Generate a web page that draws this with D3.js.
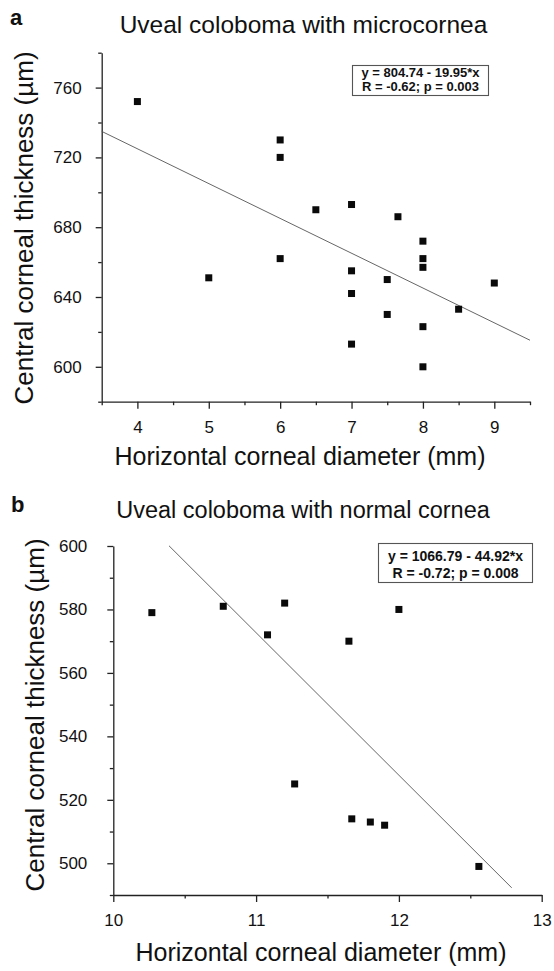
<!DOCTYPE html>
<html>
<head>
<meta charset="utf-8">
<script src="https://cdn.jsdelivr.net/npm/d3@7"></script>
<style>
  body { margin: 0; background: #fff; }
  svg { display: block; font-family: "Liberation Sans", Arial, sans-serif; }
</style>
</head>
<body>
<svg id="chart" width="554" height="971"></svg>
<script>
// Panel a: uveal coloboma with microcornea
const diamA = [4, 5, 6, 6, 6, 6.5, 7, 7, 7, 7, 7.5, 7.5, 7.65, 8, 8, 8, 8, 8, 8.5, 9];
const cctA  = [752, 651, 730, 720, 662, 690, 693, 655, 642, 613, 650, 630, 686, 672, 662, 657, 623, 600, 633, 648];
const fitA = [804.74, -19.95];         // intercept, slope
const fitRangeA = [3.5, 9.5];
const statsA = ["y = 804.74 - 19.95*x", "R = -0.62; p = 0.003"];
const xTicksA = [4, 5, 6, 7, 8, 9];
const yTicksA = [600, 640, 680, 720, 760];

// Panel b: uveal coloboma with normal cornea
const diamB = [10.27, 10.77, 11.08, 11.2, 11.27, 11.65, 11.67, 11.8, 11.9, 12.0, 12.56];
const cctB  = [579, 581, 572, 582, 525, 570, 514, 513, 512, 580, 499];
const fitB = [1066.79, -44.92];
const fitRangeB = [10.39, 12.79];
const statsB = ["y = 1066.79 - 44.92*x", "R = -0.72; p = 0.008"];
const xTicksB = [10, 11, 12, 13];
const yTicksB = [500, 520, 540, 560, 580, 600];

const svg = d3.select("#chart");

function drawPanel(p) {
  const g = svg.append("g");
  const x = d3.scaleLinear().domain(p.xDomain).range(p.xRange);
  const y = d3.scaleLinear().domain(p.yDomain).range(p.yRange);

  // minor ticks
  const xMinor = d3.range(p.xDomain[0], p.xDomain[1] + 1e-9, p.xStep / 2)
    .filter(v => !p.xTicks.some(t => Math.abs(t - v) < 1e-6));
  const yMinor = d3.range(p.yDomain[0], p.yDomain[1] + 1e-9, p.yStep / 2)
    .filter(v => !p.yTicks.some(t => Math.abs(t - v) < 1e-6));

  g.append("g")
    .attr("transform", `translate(0,${p.yRange[0]})`)
    .call(d3.axisBottom(x).tickValues(xMinor).tickSize(3.5).tickFormat(""))
    .call(a => a.select(".domain").remove());
  g.append("g")
    .attr("transform", `translate(${p.xRange[0]},0)`)
    .call(d3.axisLeft(y).tickValues(yMinor).tickSize(3.5).tickFormat(""))
    .call(a => a.select(".domain").remove());

  const xa = g.append("g")
    .attr("transform", `translate(0,${p.yRange[0]})`)
    .call(d3.axisBottom(x).tickValues(p.xTicks).tickFormat(d3.format("d"))
      .tickSize(7).tickPadding(12).tickSizeOuter(0));
  const ya = g.append("g")
    .attr("transform", `translate(${p.xRange[0]},0)`)
    .call(d3.axisLeft(y).tickValues(p.yTicks).tickFormat(d3.format("d"))
      .tickSize(6).tickPadding(p.yPad).tickSizeOuter(0));

  [xa, ya].forEach(a => {
    a.selectAll("path, line").attr("stroke", "#222").attr("stroke-width", 1.3);
    a.selectAll("text").attr("font-size", 17).attr("fill", "#111")
      .attr("font-family", "'Liberation Sans', Arial, sans-serif");
  });
  g.selectAll("g.tick line").attr("stroke", "#222").attr("stroke-width", 1.3);

  // regression line
  g.append("line")
    .attr("x1", x(p.fitRange[0])).attr("y1", y(p.fit[0] + p.fit[1] * p.fitRange[0]))
    .attr("x2", x(p.fitRange[1])).attr("y2", y(p.fit[0] + p.fit[1] * p.fitRange[1]))
    .attr("stroke", "#555").attr("stroke-width", 0.9);

  // points
  g.selectAll("rect.pt")
    .data(p.xs.map((d, i) => [d, p.ys[i]]))
    .join("rect")
    .attr("class", "pt")
    .attr("x", d => x(d[0]) - 3.5).attr("y", d => y(d[1]) - 3.5)
    .attr("width", 7).attr("height", 7)
    .attr("fill", "#0a0a0a");

  // stats box
  const b = p.box;
  g.append("rect")
    .attr("x", b.x).attr("y", b.y).attr("width", b.w).attr("height", b.h)
    .attr("fill", "#fff").attr("stroke", "#555").attr("stroke-width", 1.1);
  p.stats.forEach((s, i) => {
    g.append("text")
      .attr("x", b.x + b.w / 2).attr("y", b.base[i])
      .attr("text-anchor", "middle")
      .attr("font-size", b.fs).attr("font-weight", "bold").attr("fill", "#111")
      .text(s);
  });

  // panel letter & title
  g.append("text").attr("x", p.letterPos[0]).attr("y", p.letterPos[1])
    .attr("font-size", 22).attr("font-weight", "bold").attr("fill", "#111").text(p.letter);
  g.append("text").attr("x", p.titlePos[0]).attr("y", p.titlePos[1])
    .attr("text-anchor", "middle").attr("font-size", p.titleFs).attr("fill", "#111").text(p.title);

  // axis labels
  g.append("text").attr("x", p.xLabelPos[0]).attr("y", p.xLabelPos[1])
    .attr("text-anchor", "middle").attr("font-size", 25).attr("fill", "#111")
    .text("Horizontal corneal diameter (mm)");
  g.append("text")
    .attr("transform", `translate(${p.yLabelPos[0]},${p.yLabelPos[1]}) rotate(-90)`)
    .attr("text-anchor", "middle").attr("font-size", 26).attr("fill", "#111")
    .text("Central corneal thickness (\u00b5m)");
}

drawPanel({
  xs: diamA, ys: cctA, fit: fitA, fitRange: fitRangeA, stats: statsA,
  xTicks: xTicksA, yTicks: yTicksA, xStep: 1, yStep: 40,
  xDomain: [3.5, 9.5], xRange: [101.7, 530],
  yDomain: [580, 780], yRange: [401.7, 52.7], yPad: 14,
  box: { x: 352.5, y: 65.5, w: 136, h: 30, base: [76.5, 91], fs: 13 },
  letter: "a", letterPos: [10, 25],
  title: "Uveal coloboma with microcornea", titlePos: [303.5, 33], titleFs: 24.5,
  xLabelPos: [300, 465], yLabelPos: [33, 228]
});

drawPanel({
  xs: diamB, ys: cctB, fit: fitB, fitRange: fitRangeB, stats: statsB,
  xTicks: xTicksB, yTicks: yTicksB, xStep: 1, yStep: 20,
  xDomain: [10, 13], xRange: [113.3, 541.7],
  yDomain: [490, 600], yRange: [895, 546], yPad: 20,
  box: { x: 378.5, y: 543.5, w: 154, h: 39, base: [560.5, 577.5], fs: 14 },
  letter: "b", letterPos: [11, 512],
  title: "Uveal coloboma with normal cornea", titlePos: [303, 518], titleFs: 23.5,
  xLabelPos: [321, 961], yLabelPos: [44, 715]
});
</script>
</body>
</html>
